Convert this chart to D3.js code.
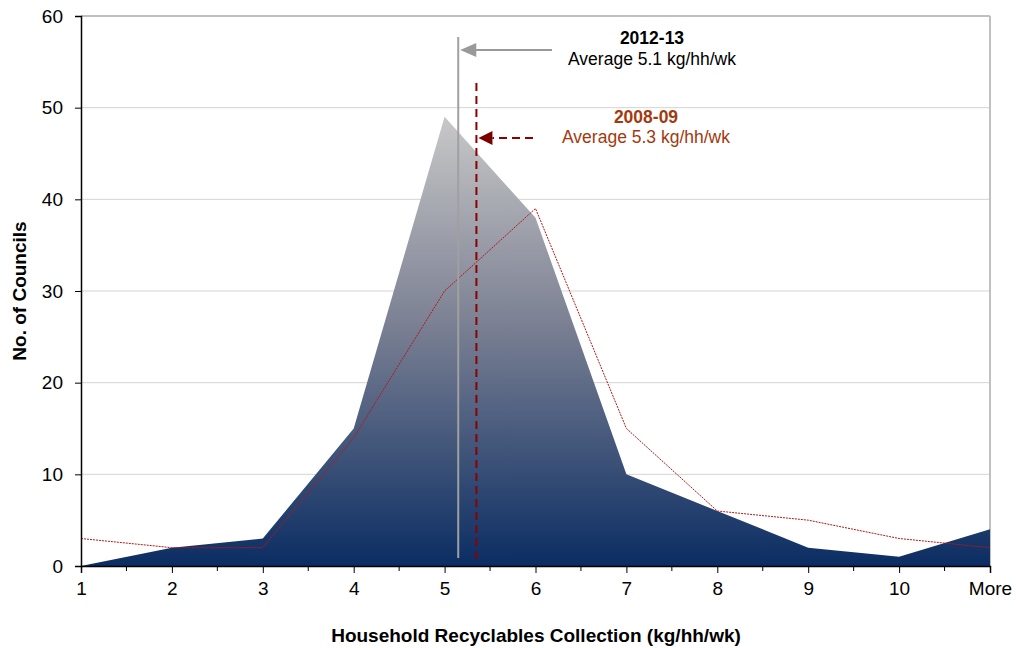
<!DOCTYPE html>
<html><head><meta charset="utf-8">
<script src="https://cdn.jsdelivr.net/npm/d3@7"></script>
<style>body{margin:0;background:#fff;font-family:"Liberation Sans",Arial,sans-serif;}</style>
</head><body><svg id="c" width="1016" height="648"></svg>
<script>
const categories = ["1","2","3","4","5","6","7","8","9","10","More"];
const councils2012 = [0,2,3,15,49,38,10,6,2,1,4];
const councils2008 = [3,2,2,14,30,39,15,6,5,3,2];
const yTicks = [0,10,20,30,40,50,60];
const avg2012 = 5.15, avg2008 = 5.35;

const svg = d3.select("#c");
const m = {l:81, r:990, t:16, b:566};
const x = d3.scalePoint().domain(categories).range([m.l, m.r]).padding(0);
const y = d3.scaleLinear().domain([0,60]).range([m.b, m.t]);
const xNum = d3.scaleLinear().domain([1,11]).range([m.l, m.r]);

const defs = svg.append("defs");
const g = defs.append("linearGradient").attr("id","ga").attr("gradientUnits","userSpaceOnUse")
  .attr("x1",0).attr("x2",0).attr("y1",y(49)).attr("y2",y(0));
g.append("stop").attr("offset","0%").attr("stop-color","#c8c8c8");
g.append("stop").attr("offset","45%").attr("stop-color","#7d8294");
g.append("stop").attr("offset","100%").attr("stop-color","#0b2d63");

svg.append("g").selectAll("line").data(yTicks.filter(d=>d>0 && d<60)).join("line")
  .attr("x1",m.l).attr("x2",m.r).attr("y1",d=>y(d)).attr("y2",d=>y(d))
  .attr("stroke","#d4d4d4").attr("stroke-width",1);
svg.append("line").attr("x1",m.l).attr("x2",m.r).attr("y1",m.t).attr("y2",m.t).attr("stroke","#c0c0c0").attr("stroke-width",2);
svg.append("line").attr("x1",m.r).attr("x2",m.r).attr("y1",m.t).attr("y2",m.b).attr("stroke","#c0c0c0").attr("stroke-width",2);

svg.append("path").datum(councils2012)
  .attr("d", d3.area().x((d,i)=>x(categories[i])).y0(y(0)).y1(d=>y(d)))
  .attr("fill","url(#ga)");

svg.append("path").datum(councils2008)
  .attr("d", d3.line().x((d,i)=>x(categories[i])).y(d=>y(d)))
  .attr("fill","none").attr("stroke","#b01818").attr("stroke-width",1).attr("stroke-dasharray","2,1");

const ya = svg.append("g").attr("transform",`translate(${m.l},0)`)
  .call(d3.axisLeft(y).tickValues(yTicks).tickSize(6).tickPadding(12).tickFormat(d3.format("d")));
ya.select(".domain").attr("stroke","#000").attr("stroke-width",1.5);
ya.selectAll("text").attr("font-size",19).attr("fill","#000").attr("font-family","Liberation Sans, Arial");

const xa = svg.append("g").attr("transform",`translate(0,${m.b})`)
  .call(d3.axisBottom(x).tickSize(7).tickPadding(9));
xa.select(".domain").attr("stroke","#000").attr("stroke-width",1.5);
xa.selectAll("text").attr("font-size",19).attr("fill","#000").attr("font-family","Liberation Sans, Arial");
const mids = d3.range(1.5, 11, 1);
svg.append("g").selectAll("line").data(mids).join("line")
  .attr("x1",d=>xNum(d)).attr("x2",d=>xNum(d)).attr("y1",m.b).attr("y2",m.b+5).attr("stroke","#000");

svg.append("text").attr("x",536).attr("y",642).attr("text-anchor","middle")
  .attr("font-size",19).attr("font-weight","bold").text("Household Recyclables Collection (kg/hh/wk)");
svg.append("text").attr("transform","translate(26,291) rotate(-90)").attr("text-anchor","middle")
  .attr("font-size",19).attr("font-weight","bold").text("No. of Councils");

const ax12 = xNum(avg2012), ax08 = xNum(avg2008);

// 2012-13 average marker
svg.append("line").attr("x1",ax12).attr("x2",ax12).attr("y1",37).attr("y2",558).attr("stroke","#a0a0a0").attr("stroke-width",2);
svg.append("line").attr("x1",552).attr("x2",ax12+16).attr("y1",50).attr("y2",50).attr("stroke","#999").attr("stroke-width",2);
svg.append("path").attr("d",`M${ax12+2},50L${ax12+18},43L${ax12+18},57Z`).attr("fill","#999");

// 2008-09 average marker
svg.append("line").attr("x1",ax08).attr("x2",ax08).attr("y1",83).attr("y2",560).attr("stroke","#8b0000").attr("stroke-width",2).attr("stroke-dasharray","8,5");
svg.append("line").attr("x1",533).attr("x2",ax08+16).attr("y1",138).attr("y2",138).attr("stroke","#8b0000").attr("stroke-width",2).attr("stroke-dasharray","8,5");
svg.append("path").attr("d",`M${ax08+2},138L${ax08+16},131L${ax08+16},145Z`).attr("fill","#7a0000");

svg.append("text").attr("x",652).attr("y",44).attr("text-anchor","middle").attr("font-size",17.5).attr("font-weight","bold").text("2012-13");
svg.append("text").attr("x",652).attr("y",65).attr("text-anchor","middle").attr("font-size",17.5).text("Average 5.1 kg/hh/wk");
svg.append("text").attr("x",646).attr("y",123).attr("text-anchor","middle").attr("font-size",17.5).attr("font-weight","bold").attr("fill","#a33a0e").text("2008-09");
svg.append("text").attr("x",646).attr("y",143).attr("text-anchor","middle").attr("font-size",17.5).attr("fill","#a33a0e").text("Average 5.3 kg/hh/wk");
</script></body></html>
